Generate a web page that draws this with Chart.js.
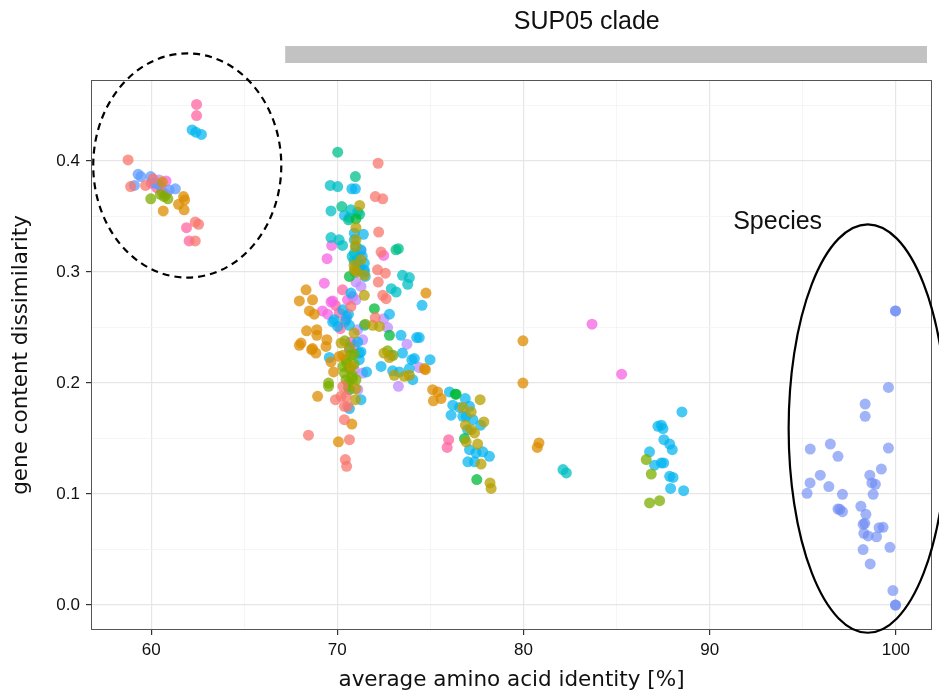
<!DOCTYPE html>
<html>
<head>
<meta charset="utf-8">
<script src="https://cdn.jsdelivr.net/npm/chart.js@4/dist/chart.umd.min.js"></script>
<style>
  html, body { margin: 0; padding: 0; background: #fff; }
  #wrap { width: 939px; height: 693px; }
</style>
</head>
<body>
<div id="wrap"><canvas id="myChart" width="939" height="693"></canvas></div>
<script>
// axis ticks
const xMajor = [60, 70, 80, 90, 100];
const xMinor = [65, 75, 85, 95];
const yMajor = [0, 0.1, 0.2, 0.3, 0.4];
const yMinor = [0.05, 0.15, 0.25, 0.35, 0.45];
const yTickLabels = ["0.0", "0.1", "0.2", "0.3", "0.4"];

// [aai, dissimilarity] per genome group
const salmonPts = [[58.76,0.401],[58.9,0.377],[59.7,0.378],[60.1,0.384],[62.37,0.345],[62.55,0.343],[62.37,0.328],
  [72.19,0.398],[72.04,0.368],[72.44,0.366],[72.22,0.336],[72.35,0.318],[72.16,0.302],[72.58,0.299],[72.2,0.291],
  [72.44,0.279],[72.62,0.276],[70.73,0.269],[72.04,0.259],[68.45,0.153],[70.2,0.188],[70.47,0.188],[70.38,0.179],
  [70.56,0.179],[70.38,0.167],[70.65,0.149],[70.43,0.131],[70.5,0.125],[69.9,0.185],[70.3,0.197]];
const goldPts = [[60.6,0.381],[61.74,0.368],[61.8,0.365],[61.47,0.361],[61.77,0.356],[60.65,0.355],
  [68.32,0.284],[67.96,0.274],[68.67,0.275],[68.76,0.262],[68.35,0.247],[68.9,0.248],[68.9,0.243],[67.96,0.234],
  [68.62,0.23],[68.85,0.227],[69.39,0.233],[69.44,0.239],[69.66,0.219],[70.1,0.224],[68.94,0.188],[70.78,0.163],
  [70.06,0.147],[74.76,0.281],[74.73,0.212],[74.68,0.213],[75.12,0.194],[75.39,0.192],[75.16,0.184],[75.57,0.186],
  [79.97,0.238],[79.97,0.2],[80.83,0.146],[80.74,0.142],[69.8,0.21],[68.5,0.265],[68.05,0.236],[68.67,0.231]];
const olivePts = [[71.0,0.340],[71.0,0.329],[70.97,0.323],[71.45,0.279],[70.2,0.236],[70.97,0.185],[71.9,0.252],
  [72.26,0.251],[73.06,0.207],[73.6,0.206],[73.87,0.207],[77.67,0.185],[76.74,0.178],[77.19,0.174],[76.88,0.162],
  [77.87,0.165],[77.19,0.158],[77.37,0.155],[76.92,0.147],[77.54,0.145],[77.72,0.127],[78.2,0.110],[78.26,0.105],
  [72.5,0.227],[72.8,0.223],[71.2,0.36],[71.05,0.30],[70.9,0.306],[71.27,0.311],[70.91,0.302],[71.45,0.297],
  [70.9,0.245],[70.3,0.225],[70.75,0.215],[71.0,0.195]];
const greenPts = [[59.98,0.366],[60.7,0.368],[60.5,0.37],[60.9,0.366],
  [70.47,0.221],[70.65,0.213],[70.38,0.209],[70.82,0.204],[70.47,0.203],[71.0,0.203],[69.53,0.2],[69.53,0.197],
  [70.9,0.217],[70.6,0.2],[70.3,0.215],[70.7,0.225],[72.7,0.229],[73.0,0.225],[71.5,0.253],
  [70.4,0.238],[70.65,0.232],[70.9,0.226],[70.5,0.218],[70.8,0.207],[70.6,0.196],
  [86.59,0.131],[86.86,0.118],[86.77,0.092],[87.31,0.094]];
const green2Pts = [[71.0,0.348],[70.65,0.296],[71.99,0.267],[72.8,0.243],[76.34,0.190],[76.38,0.190],[76.83,0.150],
  [77.49,0.113],[70.65,0.194]];
const tealGreenPts = [[70.02,0.408],[70.97,0.386],[70.24,0.359],[73.15,0.320],[73.28,0.321],[70.6,0.347],[71.2,0.352]];
const tealPts = [[69.62,0.378],[70.02,0.377],[69.66,0.355],[70.73,0.356],[71.09,0.354],[69.66,0.331],[70.1,0.329],
  [70.28,0.324],[73.5,0.297],[73.87,0.295],[73.78,0.289],[82.12,0.122],[82.3,0.119],[72.9,0.285],[73.16,0.282],
  [71.0,0.323],[70.8,0.314]];
const cyanPts = [[62.2,0.428],[62.4,0.426],[62.7,0.424],
  [70.78,0.375],[70.97,0.375],[70.38,0.351],[70.65,0.349],[70.91,0.335],[71.4,0.334],[70.9,0.31],[71.1,0.307],
  [71.2,0.302],[71.45,0.300],[71.5,0.296],[70.95,0.3],[70.73,0.281],[69.84,0.257],[70.47,0.257],[69.57,0.223],
  [71.27,0.228],[71.57,0.21],[71.18,0.221],[71.27,0.185],[70.65,0.177],[71.45,0.252],[73.42,0.243],[74.26,0.241],
  [73.5,0.227],[74.0,0.221],[74.98,0.221],[72.35,0.215],[72.97,0.211],[74.05,0.203],[74.4,0.241],[76.02,0.192],
  [76.2,0.18],[76.11,0.171],[76.56,0.178],[76.74,0.17],[76.87,0.186],[77.1,0.179],[76.92,0.17],[77.28,0.167],
  [77.7,0.162],[77.0,0.158],[77.1,0.14],[77.45,0.137],[77.81,0.138],[78.17,0.134],[77.01,0.129],[77.37,0.129],
  [74.55,0.270],[72.8,0.262],[70.3,0.266],[70.6,0.262],
  [70.91,0.329],[71.27,0.320],[70.91,0.317],[71.34,0.314],[71.08,0.311],[71.45,0.308],[71.18,0.305],[71.45,0.302],
  [69.75,0.255],[70.02,0.251],[70.65,0.252],[71.09,0.237],[71.18,0.227],[73.33,0.210],[74.14,0.222],[73.87,0.213],
  [88.51,0.174],[87.22,0.161],[87.4,0.162],[87.49,0.159],[87.54,0.149],[87.85,0.145],[87.99,0.14],[86.77,0.138],
  [87.04,0.126],[87.4,0.128],[87.53,0.128],[87.85,0.116],[88.03,0.115],[87.9,0.105],[88.6,0.103]];
const bluePts = [[59.3,0.388],[59.45,0.386],[59.98,0.386],[60.4,0.379],[60.97,0.374],[61.3,0.375],[59.1,0.378],[60.2,0.38]];
const purplePts = [[60.43,0.383],[71.27,0.319],[71.0,0.291],[71.27,0.287],[71.09,0.248],[71.36,0.239],[70.91,0.212],
  [71.36,0.209],[71.1,0.194],[73.74,0.235],[74.4,0.214],[73.28,0.197],[72.5,0.258],[72.7,0.25],[71.0,0.275],[72.9,0.225]];
const magentaPts = [[60.8,0.382],[69.7,0.324],[72.49,0.315],[69.45,0.312],[69.3,0.29],[69.48,0.262],[69.75,0.274],
  [70.73,0.237],[70.91,0.234],[70.65,0.23],[83.68,0.253],[85.27,0.208],[70.5,0.26],[69.2,0.265],
  [69.66,0.273],[70.55,0.275],[70.82,0.278]];
const pinkPts = [[62.44,0.451],[62.44,0.441],[61.9,0.34],[62.04,0.328],[60.0,0.380],[60.3,0.376],[60.6,0.372],
  [60.5,0.378],[60.8,0.37],[70.28,0.284],[70.1,0.263],[70.16,0.249],[75.98,0.149],[75.9,0.142],[69.9,0.27],[70.4,0.255]];
const speciesPts = [[99.98,0.265],[99.6,0.196],[98.35,0.181],[98.35,0.170],[95.4,0.1405],[96.48,0.145],[96.89,0.134],
  [99.6,0.1414],[99.22,0.1225],[95.94,0.117],[95.39,0.110],[96.4,0.1067],[95.23,0.1006],[98.6,0.117],[98.71,0.110],
  [98.9,0.1087],[98.78,0.0997],[97.13,0.0997],[96.89,0.0865],[97.13,0.0841],[96.99,0.0862],[98.12,0.089],[98.39,0.0817],
  [98.33,0.0736],[98.24,0.0727],[99.1,0.0697],[99.31,0.0700],[98.28,0.0646],[98.51,0.0622],[98.96,0.0615],[98.24,0.050],
  [99.68,0.052],[98.62,0.037],[99.84,0.013],[99.98,0.0],[99.98,0.0],[99.98,0.265]];

const groups = [
  [salmonPts, "rgba(248,118,109,0.75)"],
  [goldPts, "rgba(222,140,0,0.75)"],
  [olivePts, "rgba(183,159,0,0.75)"],
  [greenPts, "rgba(124,174,0,0.75)"],
  [green2Pts, "rgba(0,186,56,0.75)"],
  [tealGreenPts, "rgba(0,192,139,0.75)"],
  [tealPts, "rgba(0,191,196,0.75)"],
  [cyanPts, "rgba(0,180,240,0.72)"],
  [bluePts, "rgba(97,156,255,0.75)"],
  [purplePts, "rgba(190,140,255,0.75)"],
  [magentaPts, "rgba(245,100,227,0.75)"],
  [pinkPts, "rgba(255,100,160,0.75)"],
  [speciesPts, "rgba(110,140,245,0.65)"],
];

const font = "'Liberation Sans', Arial, sans-serif";
const titleFont = "'DejaVu Sans', sans-serif";

// ellipses and labels, in data units
const dashedRing = { x: 61.94, y: 0.396, rx: 5.05, ry: 0.101 };
const speciesRing = { x: 98.49, y: 0.159, rx: 4.25, ry: 0.184 };

const annotations = {
  id: "annotations",
  afterDraw(chart) {
    const { ctx, chartArea: a, scales: { x, y } } = chart;
    ctx.save();
    // panel border
    ctx.strokeStyle = "#555";
    ctx.lineWidth = 1;
    ctx.strokeRect(a.left + 0.5, a.top + 0.5, a.right - a.left - 1, a.bottom - a.top - 1);

    const ring = (e, dash) => {
      const cx = x.getPixelForValue(e.x), cy = y.getPixelForValue(e.y);
      const rx = x.getPixelForValue(e.x + e.rx) - cx;
      const ry = cy - y.getPixelForValue(e.y + e.ry);
      ctx.beginPath();
      ctx.setLineDash(dash);
      ctx.strokeStyle = "#000";
      ctx.lineWidth = 2.2;
      ctx.ellipse(cx, cy, rx, ry, 0, 0, Math.PI * 2);
      ctx.stroke();
    };
    ring(dashedRing, [7, 5]);
    ring(speciesRing, []);
    ctx.setLineDash([]);

    // clade bar
    const b0 = x.getPixelForValue(67.2), b1 = x.getPixelForValue(101.67);
    ctx.fillStyle = "#c2c2c2";
    ctx.fillRect(b0, a.top - 34, b1 - b0, 17);

    ctx.fillStyle = "#111";
    ctx.textAlign = "center";
    ctx.textBaseline = "middle";
    ctx.font = "25px " + font;
    ctx.fillText("SUP05 clade", x.getPixelForValue(83.4), 22);
    ctx.fillText("Species", x.getPixelForValue(93.65), y.getPixelForValue(0.345));
    ctx.restore();
  },
};

const isMajor = (list, v) => list.some((m) => Math.abs(m - v) < 1e-6);

const ctx = document.getElementById("myChart").getContext("2d");
const myChart = new Chart(ctx, {
  type: "scatter",
  data: {
    datasets: groups.map(([pts, color]) => ({
      data: pts.map(([a, d]) => ({ x: a, y: d })),
      backgroundColor: color,
      borderWidth: 0,
      pointRadius: 5.5,
    })),
  },
  options: {
    responsive: false,
    animation: false,
    layout: { padding: { top: 80, right: 7, left: 0, bottom: 0 } },
    plugins: { legend: { display: false }, tooltip: { enabled: false } },
    scales: {
      x: {
        type: "linear",
        min: 56.77,
        max: 101.94,
        afterFit: (s) => { s.height = 63; },
        afterBuildTicks: (s) => {
          s.ticks = [...xMajor, ...xMinor].sort((a, b) => a - b).map((v) => ({ value: v }));
        },
        grid: {
          color: (c) => (isMajor(xMajor, c.tick.value) ? "#e6e6e6" : "#f3f3f3"),
          lineWidth: (c) => (isMajor(xMajor, c.tick.value) ? 1.2 : 0.8),
          tickColor: (c) => (isMajor(xMajor, c.tick.value) ? "#333" : "rgba(0,0,0,0)"),
          tickLength: 5,
        },
        border: { display: false },
        ticks: {
          autoSkip: false,
          maxRotation: 0,
          padding: 5,
          color: "#111",
          font: { family: font, size: 17 },
          callback: (v) => (isMajor(xMajor, v) ? String(v) : ""),
        },
        title: {
          display: true,
          text: "average amino acid identity [%]",
          color: "#111",
          font: { family: titleFont, size: 21.5 },
          padding: { top: 0, bottom: 0 },
        },
      },
      y: {
        type: "linear",
        min: -0.0225,
        max: 0.473,
        afterFit: (s) => { s.width = 91; },
        afterBuildTicks: (s) => {
          s.ticks = [...yMajor, ...yMinor].sort((a, b) => a - b).map((v) => ({ value: v }));
        },
        grid: {
          color: (c) => (isMajor(yMajor, c.tick.value) ? "#e6e6e6" : "#f3f3f3"),
          lineWidth: (c) => (isMajor(yMajor, c.tick.value) ? 1.2 : 0.8),
          tickColor: (c) => (isMajor(yMajor, c.tick.value) ? "#333" : "rgba(0,0,0,0)"),
          tickLength: 5,
        },
        border: { display: false },
        ticks: {
          autoSkip: false,
          padding: 6,
          color: "#111",
          font: { family: font, size: 17 },
          callback: (v) => {
            const i = yMajor.findIndex((m) => Math.abs(m - v) < 1e-6);
            return i >= 0 ? yTickLabels[i] : "";
          },
        },
        title: {
          display: true,
          text: "gene content dissimilarity",
          color: "#111",
          font: { family: titleFont, size: 21.5 },
          padding: { top: 9, bottom: 0 },
        },
      },
    },
  },
  plugins: [annotations],
});
</script>
</body>
</html>
